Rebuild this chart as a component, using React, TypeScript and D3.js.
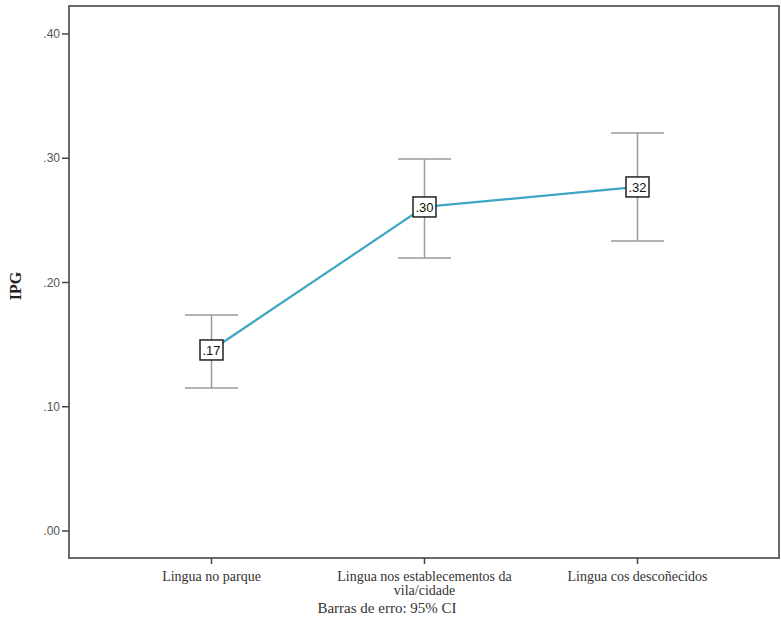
import React from "react";
import * as d3 from "d3";

// Categories and statistics (mean with 95% CI)
const categories = ["Lingua no parque", "Lingua nos establecementos da vila/cidade", "Lingua cos descoñecidos"];
const means = [0.1457, 0.2608, 0.2769];
const ciLower = [0.1151, 0.2197, 0.2334];
const ciUpper = [0.1738, 0.2994, 0.3203];
const pointLabels = [".17", ".30", ".32"];
const yTicks = [0, 0.1, 0.2, 0.3, 0.4];
const categoryLines = [["Lingua no parque"], ["Lingua nos establecementos da", "vila/cidade"], ["Lingua cos descoñecidos"]];

const W = 781;
const H = 626;
const frame = { left: 69, top: 6, right: 779, bottom: 558 };

export default function App() {
  const y = d3.scaleLinear().domain([-0.0217, 0.4225]).range([frame.bottom, frame.top]);
  const x = d3.scalePoint<string>().domain(categories).range([211.5, 637.5]);

  const line = d3
    .line<number>()
    .x((_, i) => x(categories[i]) as number)
    .y((d) => y(d));

  const capHalf = 26.5;
  const sans = "Arial, 'Liberation Sans', sans-serif";
  const serif = "'Liberation Serif', 'Times New Roman', serif";

  return (
    <svg width={W} height={H} style={{ position: "absolute", left: 0, top: 0, background: "#fff" }}>
      <rect x={0} y={0} width={W} height={H} fill="#fff" />
      {/* plot frame */}
      <rect
        x={frame.left}
        y={frame.top}
        width={frame.right - frame.left}
        height={frame.bottom - frame.top}
        fill="#fff"
        stroke="#6a6a6a"
        strokeWidth={2}
      />

      {/* y axis ticks */}
      {yTicks.map((t) => (
        <g key={t}>
          <line x1={62} x2={frame.left} y1={y(t)} y2={y(t)} stroke="#444" strokeWidth={1.5} />
          <text x={60} y={y(t)} dy="0.35em" textAnchor="end" fontFamily={sans} fontSize={12} fill="#555">
            {d3.format(".2f")(t).replace(/^0/, "")}
          </text>
        </g>
      ))}

      {/* y axis title */}
      <text
        transform={`translate(21,${286}) rotate(-90)`}
        textAnchor="middle"
        fontFamily={serif}
        fontWeight="bold"
        fontSize={16}
        fill="#222"
      >
        IPG
      </text>

      {/* x axis ticks and labels */}
      {categories.map((c, i) => {
        const cx = x(c) as number;
        return (
          <g key={c}>
            <line x1={cx} x2={cx} y1={frame.bottom} y2={frame.bottom + 6} stroke="#444" strokeWidth={1.5} />
            {categoryLines[i].map((ln, j) => (
              <text
                key={j}
                x={cx}
                y={581 + j * 13.5}
                textAnchor="middle"
                fontFamily={serif}
                fontSize={14}
                fill="#333"
              >
                {ln}
              </text>
            ))}
          </g>
        );
      })}

      {/* error bars */}
      {categories.map((c, i) => {
        const cx = x(c) as number;
        return (
          <g key={c} stroke="#9a9a9a" strokeWidth={1.5}>
            <line x1={cx} x2={cx} y1={y(ciLower[i])} y2={y(ciUpper[i])} />
            <line x1={cx - capHalf} x2={cx + capHalf} y1={y(ciUpper[i])} y2={y(ciUpper[i])} />
            <line x1={cx - capHalf} x2={cx + capHalf} y1={y(ciLower[i])} y2={y(ciLower[i])} />
          </g>
        );
      })}

      {/* mean line */}
      <path d={line(means) || ""} fill="none" stroke="#3ea5c4" strokeWidth={2.2} />

      {/* value labels */}
      {categories.map((c, i) => {
        const cx = x(c) as number;
        const cy = y(means[i]);
        return (
          <g key={c}>
            <rect x={cx - 11.5} y={cy - 10} width={23} height={20} fill="#fff" stroke="#222" strokeWidth={1.5} />
            <text x={cx} y={cy} dy="0.36em" textAnchor="middle" fontFamily={sans} fontSize={13} fill="#111">
              {pointLabels[i]}
            </text>
          </g>
        );
      })}

      {/* footnote */}
      <text x={387} y={613} textAnchor="middle" fontFamily={serif} fontSize={15} fill="#333">
        Barras de erro: 95% CI
      </text>
    </svg>
  );
}
